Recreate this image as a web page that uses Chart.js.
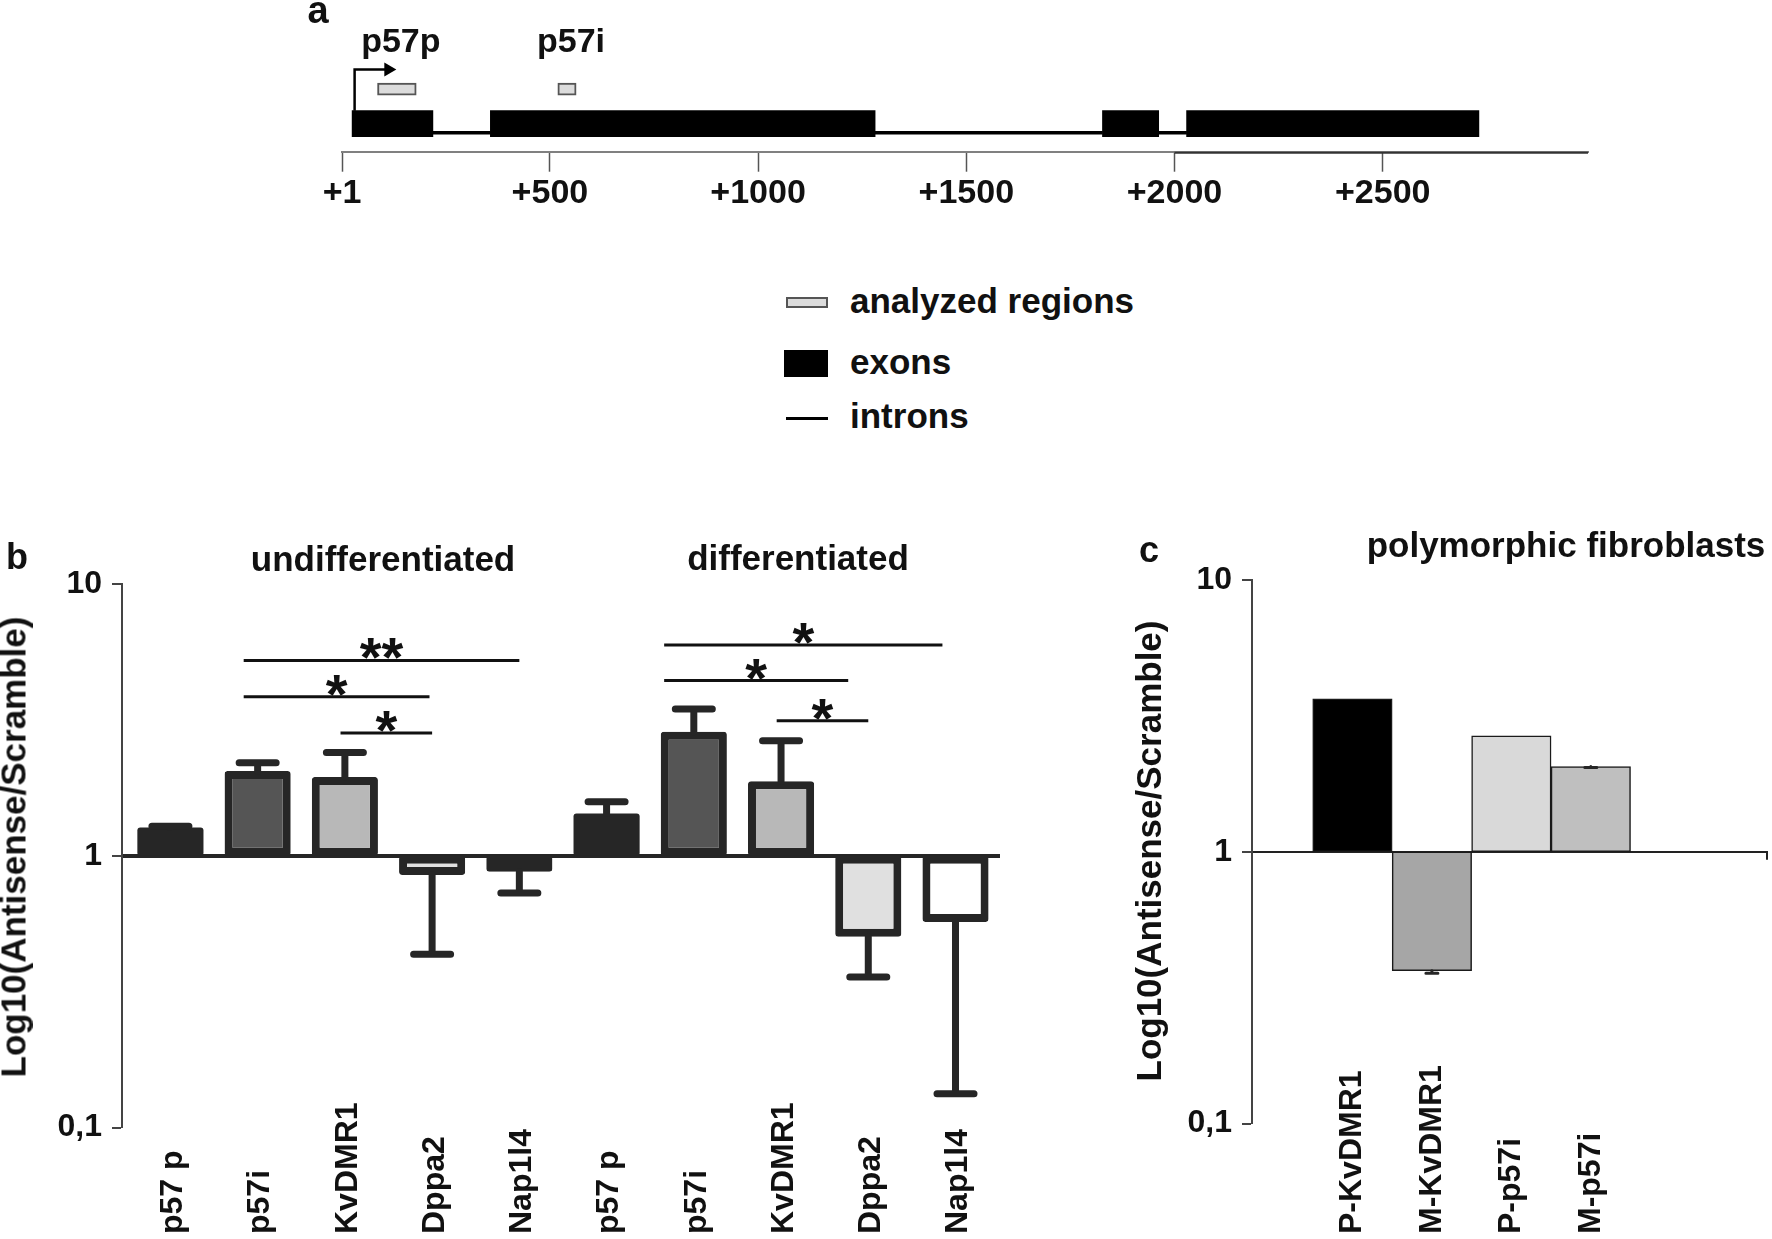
<!DOCTYPE html>
<html>
<head>
<meta charset="utf-8">
<title>p57 antisense</title>
<script src="https://cdn.jsdelivr.net/npm/chart.js@4.4.1/dist/chart.umd.min.js"></script>
<style>
  html, body { margin: 0; padding: 0; background: #fff; }
  #fig { position: relative; width: 1772px; height: 1239px; overflow: hidden;
         font-family: "Liberation Sans", Arial, sans-serif; font-weight: bold; color: #111; }
  .panel { position: absolute; }
  .t { position: absolute; white-space: nowrap; line-height: 1; font-size: 35px; }
  .c { transform: translate(-50%, -50%); }
  .l { transform: translate(0, -50%); }
  .v { transform: translate(-50%, -50%) rotate(-90deg); }
  .key { position: absolute; box-sizing: border-box; }
</style>
</head>
<body>
<div id="fig">
  <div class="panel" style="left:0;top:0;width:1772px;height:240px"><canvas id="geneChart"></canvas></div>
  <div class="panel" style="left:0;top:520px;width:1010px;height:719px"><canvas id="chartB"></canvas></div>
  <div class="panel" style="left:1130px;top:520px;width:642px;height:719px"><canvas id="chartC"></canvas></div>

  <div class="t c" style="left:318px;top:10px;font-size:38px">a</div>
  <div class="t c" style="left:17px;top:557px;font-size:36px">b</div>
  <div class="t c" style="left:1149px;top:550px;font-size:36px">c</div>
  <div class="t c" style="left:383px;top:558px">undifferentiated</div>
  <div class="t c" style="left:798px;top:557px">differentiated</div>
  <div class="t c" style="left:1566px;top:544px">polymorphic fibroblasts</div>
  <div class="t v" style="left:13px;top:847px">Log10(Antisense/Scramble)</div>
  <div class="t v" style="left:1148px;top:851px">Log10(Antisense/Scramble)</div>

  <!-- legend of panel a -->
  <div class="key" style="left:786px;top:297px;width:42px;height:11px;background:#dcdcdc;border:2px solid #555"></div>
  <div class="key" style="left:784px;top:350px;width:44px;height:27px;background:#000"></div>
  <div class="key" style="left:786px;top:417px;width:42px;height:3px;background:#000"></div>
  <div class="t l" style="left:850px;top:300px">analyzed regions</div>
  <div class="t l" style="left:850px;top:361px">exons</div>
  <div class="t l" style="left:850px;top:415px">introns</div>
</div>

<script>
Chart.defaults.font.family = '"Liberation Sans", Arial, sans-serif';
Chart.defaults.font.weight = 'bold';
Chart.defaults.color = '#111';
Chart.defaults.animation = false;

const FONT = '"Liberation Sans", Arial, sans-serif';

// panel a - gene structure, positions in bp
const geneTicks = [1, 500, 1000, 1500, 2000, 2500];
const exonStart = [25, 357, 1827, 2029];
const exonEnd = [219, 1281, 1962, 2731];
const intronStart = [219, 1281, 1962];
const intronEnd = [357, 1827, 2029];
const regionNames = ["p57p", "p57i"];
const regionStart = [86, 519];
const regionEnd = [179, 563];
const tssArrow = [31, 112];

// panel b
const bLabels = ["p57 p", "p57i", "KvDMR1", "Dppa2", "Nap1l4", "p57 p", "p57i", "KvDMR1", "Dppa2", "Nap1l4"];
const bValues = [1.27, 2.05, 1.95, 0.85, 0.873, 1.43, 2.86, 1.88, 0.503, 0.571];
const bErrors = [1.285, 2.2, 2.4, 0.434, 0.729, 1.58, 3.47, 2.65, 0.358, 0.133];
const sigFrom = [0.84, 0.84, 1.95, 5.66, 5.66, 6.95];
const sigTo = [4.0, 2.97, 3.0, 8.85, 7.77, 8.0];
const sigValue = [5.23, 3.85, 2.83, 5.97, 4.41, 3.14];
const sigMarks = ["**", "*", "*", "*", "*", "*"];

// panel c
const cLabels = ["P-KvDMR1", "M-KvDMR1", "P-p57i", "M-p57i"];
const cValues = [3.65, 0.365, 2.67, 2.06];
const cErrors = [null, 0.357, null, 2.04];

const logTicks = [0.1, 1, 10];

const bFill = ["#262626", "#555555", "#b8b8b8", "#e0e0e0", "#ffffff",
               "#262626", "#555555", "#b8b8b8", "#e0e0e0", "#ffffff"];
// solid dark bars need no separate outline
const bBorder = bFill.map(c => (c === "#262626" ? 0 : 8));
const cFill = ["#000000", "#a6a6a6", "#d9d9d9", "#bfbfbf"];

function errorBars(values, errors, width, cap) {
  return {
    id: 'errorBars',
    afterDatasetsDraw(chart) {
      const ctx = chart.ctx, x = chart.scales.x, y = chart.scales.y;
      ctx.save();
      ctx.strokeStyle = '#262626';
      ctx.lineWidth = width;
      ctx.lineCap = 'round';
      errors.forEach((e, i) => {
        if (e === null) return;
        const px = x.getPixelForValue(i);
        const y0 = y.getPixelForValue(values[i]);
        const y1 = y.getPixelForValue(e);
        ctx.beginPath();
        ctx.moveTo(px, y0);
        ctx.lineTo(px, y1);
        ctx.moveTo(px - cap / 2, y1);
        ctx.lineTo(px + cap / 2, y1);
        ctx.stroke();
      });
      ctx.restore();
    }
  };
}

// rotated category names, text starting from the bottom
function catLabels(labels, bottom, shift) {
  return {
    id: 'catLabels',
    afterDraw(chart) {
      const ctx = chart.ctx, x = chart.scales.x;
      ctx.save();
      ctx.font = 'bold 32px ' + FONT;
      ctx.fillStyle = '#111';
      ctx.textAlign = 'left';
      ctx.textBaseline = 'middle';
      labels.forEach((t, i) => {
        ctx.save();
        ctx.translate(x.getPixelForValue(i) + shift, bottom);
        ctx.rotate(-Math.PI / 2);
        ctx.fillText(t, 0, 0);
        ctx.restore();
      });
      ctx.restore();
    }
  };
}

const sigBars = {
  id: 'sigBars',
  afterDatasetsDraw(chart) {
    const ctx = chart.ctx, x = chart.scales.x, y = chart.scales.y;
    ctx.save();
    ctx.strokeStyle = '#111';
    ctx.fillStyle = '#111';
    ctx.lineWidth = 3;
    ctx.font = 'bold 56px ' + FONT;
    ctx.textAlign = 'center';
    ctx.textBaseline = 'alphabetic';
    sigValue.forEach((v, k) => {
      const x1 = x.getPixelForValue(sigFrom[k]);
      const x2 = x.getPixelForValue(sigTo[k]);
      const py = y.getPixelForValue(v);
      ctx.beginPath();
      ctx.moveTo(x1, py);
      ctx.lineTo(x2, py);
      ctx.stroke();
      ctx.fillText(sigMarks[k], (x1 + x2) / 2, py + 16);
    });
    ctx.restore();
  }
};

const regionLabels = {
  id: 'regionLabels',
  afterDraw(chart) {
    const ctx = chart.ctx, x = chart.scales.x;
    ctx.save();
    ctx.font = 'bold 34px ' + FONT;
    ctx.fillStyle = '#111';
    ctx.textAlign = 'center';
    ctx.textBaseline = 'alphabetic';
    regionNames.forEach((n, i) => {
      ctx.fillText(n, x.getPixelForValue((regionStart[i] + regionEnd[i]) / 2) + 4, 52);
    });
    // the axis line is darker from +2000 onwards in the original
    const a = chart.chartArea;
    ctx.strokeStyle = '#333';
    ctx.lineWidth = 2;
    ctx.beginPath();
    ctx.moveTo(x.getPixelForValue(geneTicks[4]), a.bottom + 1);
    ctx.lineTo(a.right, a.bottom + 1);
    ctx.stroke();
    ctx.restore();
  }
};

const baseEnd = {
  id: 'baseEnd',
  afterDraw(chart) {
    const ctx = chart.ctx, a = chart.chartArea;
    const py = chart.scales.y.getPixelForValue(1);
    ctx.save();
    ctx.strokeStyle = '#222';
    ctx.lineWidth = 2;
    ctx.beginPath();
    ctx.moveTo(a.right - 1, py);
    ctx.lineTo(a.right - 1, py + 8);
    ctx.stroke();
    ctx.restore();
  }
};

function logAxis(baseColor, baseWidth) {
  return {
    type: 'logarithmic',
    min: 0.1,
    max: 10,
    afterBuildTicks: s => { s.ticks = logTicks.map(v => ({ value: v })); },
    afterFit: s => { s.width = 122; },
    ticks: {
      autoSkip: false,
      padding: 10,
      color: '#111',
      font: { size: 32, weight: 'bold' },
      callback: v => String(v).replace('.', ',')
    },
    grid: {
      color: c => (c.tick && c.tick.value === 1 ? baseColor : 'rgba(0,0,0,0)'),
      lineWidth: c => (c.tick && c.tick.value === 1 ? baseWidth : 0),
      tickColor: '#444',
      tickWidth: 2,
      tickLength: 10
    },
    border: { color: '#444', width: 2 }
  };
}

function indexAxis(labels, min, max) {
  return {
    type: 'linear',
    min: min,
    max: max,
    bounds: 'data',
    offset: false,
    display: false,
    ticks: { stepSize: 1, includeBounds: false },
    afterBuildTicks: s => { s.ticks = labels.map((_, i) => ({ value: i })); }
  };
}

// panel a
new Chart(document.getElementById('geneChart'), {
  type: 'bar',
  data: {
    datasets: [
      {
        label: 'exons',
        data: exonStart.map((s, i) => ({ x: [s, exonEnd[i]], y: 2.13 })),
        backgroundColor: '#000',
        barThickness: 26,
        grouped: false
      },
      {
        label: 'introns',
        data: intronStart.map((s, i) => ({ x: [s, intronEnd[i]], y: 1.44 })),
        backgroundColor: '#000',
        barThickness: 3,
        grouped: false
      },
      {
        label: 'analyzed regions',
        data: regionStart.map((s, i) => ({ x: [s, regionEnd[i]], y: 4.75 })),
        backgroundColor: '#dcdcdc',
        borderColor: '#555',
        borderWidth: 2,
        borderSkipped: false,
        barThickness: 12,
        grouped: false
      },
      {
        type: 'line',
        label: 'TSS',
        data: [{ x: tssArrow[0], y: 3.11 }, { x: tssArrow[0], y: 6.24 }, { x: tssArrow[1], y: 6.24 }],
        borderColor: '#000',
        borderWidth: 2.5,
        pointRadius: [0, 0, 8],
        pointStyle: 'triangle',
        pointRotation: 90,
        pointBackgroundColor: '#000',
        pointBorderWidth: 0,
        tension: 0,
        fill: false
      }
    ]
  },
  options: {
    indexAxis: 'y',
    responsive: true,
    maintainAspectRatio: false,
    layout: { padding: { left: 341.7, right: 184, top: 20, bottom: 0 } },
    plugins: { legend: { display: false }, tooltip: { enabled: false } },
    scales: {
      x: {
        type: 'linear',
        min: 0,
        max: 2993,
        bounds: 'data',
        afterBuildTicks: s => { s.ticks = geneTicks.map(v => ({ value: v })); },
        afterFit: s => { s.height = 88.3; },
        ticks: {
          autoSkip: false,
          maxRotation: 0,
          padding: 2,
          color: '#111',
          font: { size: 34, weight: 'bold' },
          callback: v => '+' + v
        },
        grid: { drawOnChartArea: false, tickLength: 20, tickColor: '#555', tickWidth: 1.5 },
        border: { color: '#808080', width: 2 }
      },
      y: { type: 'linear', min: 0, max: 10, bounds: 'data', offset: false, display: false }
    }
  },
  plugins: [regionLabels]
});

// panel b
new Chart(document.getElementById('chartB'), {
  type: 'bar',
  data: {
    datasets: [{
      data: bValues.map((v, i) => ({ x: i, y: [1, v] })),
      backgroundColor: bFill,
      borderColor: '#262626',
      borderWidth: bBorder,
      borderSkipped: false,
      borderRadius: 3,
      barPercentage: 0.758,
      categoryPercentage: 1
    }]
  },
  options: {
    responsive: true,
    maintainAspectRatio: false,
    layout: { padding: { left: 0, right: 10, top: 64, bottom: 111.5 } },
    plugins: { legend: { display: false }, tooltip: { enabled: false } },
    scales: {
      x: indexAxis(bLabels, -0.555, 9.51),
      y: logAxis('#262626', 4)
    }
  },
  plugins: [errorBars(bValues, bErrors, 7, 37), sigBars, catLabels(bLabels, 714, 3)]
});

// panel c
new Chart(document.getElementById('chartC'), {
  type: 'bar',
  data: {
    datasets: [{
      data: cValues.map((v, i) => ({ x: i, y: [1, v] })),
      backgroundColor: cFill,
      borderColor: '#1a1a1a',
      borderWidth: 1.5,
      borderSkipped: false,
      barPercentage: 1,
      categoryPercentage: 1
    }]
  },
  options: {
    responsive: true,
    maintainAspectRatio: false,
    layout: { padding: { left: 0, right: 4, top: 60, bottom: 115.5 } },
    plugins: { legend: { display: false }, tooltip: { enabled: false } },
    scales: {
      x: indexAxis(cLabels, -1.264, 5.23),
      y: logAxis('#222', 2)
    }
  },
  plugins: [errorBars(cValues, cErrors, 3, 12), baseEnd, catLabels(cLabels, 714, 0)]
});
</script>
</body>
</html>
